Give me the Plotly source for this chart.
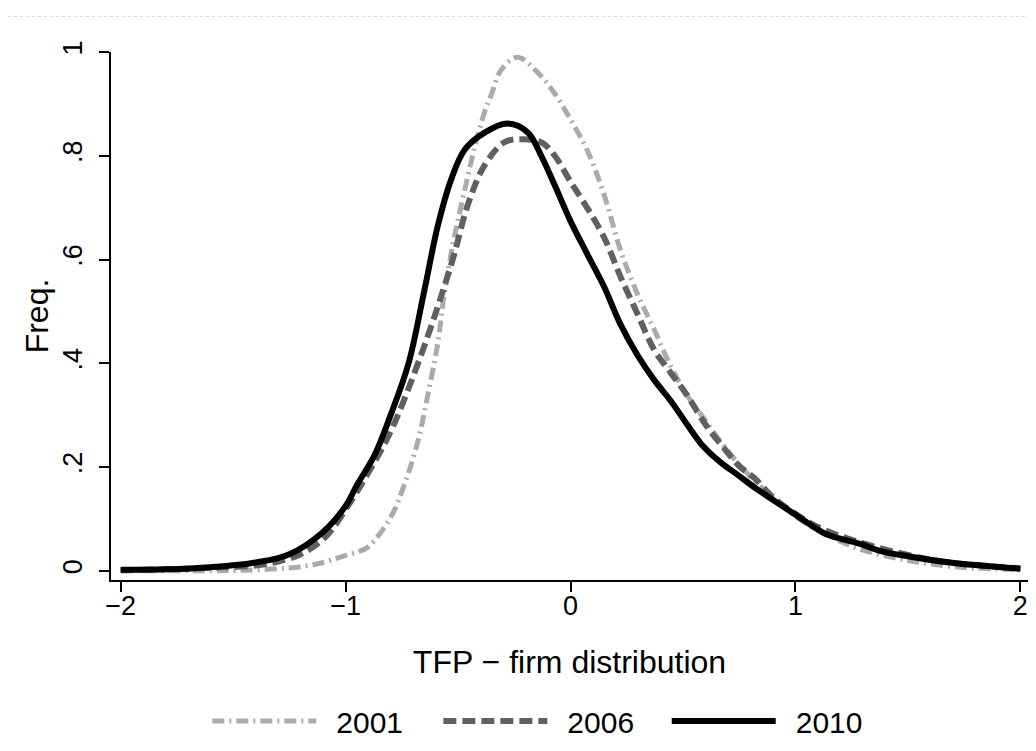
import plotly.graph_objects as go

# ---- data ----
x_2001 = [-2.0, -1.8, -1.6, -1.46, -1.3, -1.2, -1.1, -1.02, -0.95, -0.9, -0.8, -0.738, -0.679,
          -0.635, -0.59, -0.561, -0.517, -0.472, -0.428, -0.383, -0.35, -0.309, -0.235, -0.147,
          -0.072, 0.0, 0.075, 0.15, 0.223, 0.297, 0.372, 0.445, 0.519, 0.594, 0.667, 0.75, 0.85,
          1.0, 1.15, 1.3, 1.5, 1.7, 1.8, 2.0]
y_2001 = [0.0, 0.0, 0.0, 0.001, 0.004, 0.008, 0.016, 0.027, 0.036, 0.046, 0.103, 0.167, 0.249,
          0.338, 0.439, 0.535, 0.642, 0.731, 0.813, 0.883, 0.92, 0.965, 0.990, 0.961,
          0.921, 0.870, 0.810, 0.724, 0.617, 0.534, 0.465, 0.395, 0.338, 0.293, 0.249, 0.205, 0.160,
          0.105, 0.067, 0.040, 0.020, 0.008, 0.005, 0.002]

x_2006 = [-2.0, -1.8, -1.6, -1.4, -1.3, -1.2, -1.09, -0.975, -0.887, -0.8, -0.71, -0.635, -0.576,
          -0.517, -0.457, -0.383, -0.294, -0.22, -0.13, -0.07, 0.0, 0.075, 0.15, 0.223, 0.297,
          0.372, 0.445, 0.519, 0.6, 0.67, 0.755, 0.815, 0.905, 1.054, 1.128, 1.247, 1.426, 1.65,
          1.8, 2.0]
y_2006 = [0.001, 0.003, 0.006, 0.010, 0.018, 0.032, 0.065, 0.135, 0.198, 0.268, 0.363, 0.452, 0.528,
          0.610, 0.705, 0.781, 0.826, 0.832, 0.826, 0.800, 0.750, 0.699, 0.642, 0.566, 0.496,
          0.426, 0.382, 0.338, 0.282, 0.243, 0.200, 0.180, 0.140, 0.095, 0.079, 0.060, 0.038, 0.018,
          0.011, 0.005]

x_2010 = [-2.0, -1.8, -1.6, -1.4, -1.25, -1.1, -1.0, -0.95, -0.87, -0.8, -0.72, -0.65, -0.59,
          -0.53, -0.47, -0.38, -0.28, -0.19, -0.13, -0.07, 0.0, 0.075, 0.15, 0.22, 0.30, 0.37,
          0.45, 0.52, 0.59, 0.67, 0.74, 0.83, 0.98, 1.13, 1.2, 1.28, 1.38, 1.5, 1.65, 1.8, 2.0]
y_2010 = [0.002, 0.003, 0.007, 0.016, 0.032, 0.075, 0.125, 0.165, 0.224, 0.300, 0.400, 0.540, 0.665,
          0.755, 0.812, 0.845, 0.862, 0.845, 0.800, 0.743, 0.674, 0.610, 0.547, 0.477, 0.414, 0.369,
          0.325, 0.281, 0.240, 0.208, 0.186, 0.157, 0.114, 0.072, 0.062, 0.053, 0.038, 0.028, 0.018,
          0.011, 0.004]

series_names = ["2001", "2006", "2010"]
x_ticks = [-2, -1, 0, 1, 2]
x_tick_labels = ["\u22122", "\u22121", "0", "1", "2"]
y_ticks = [0, 0.2, 0.4, 0.6, 0.8, 1.0]
y_tick_labels = ["0", ".2", ".4", ".6", ".8", "1"]

FONT = "Liberation Sans, Arial, Helvetica, sans-serif"
LEG_FONT = dict(size=30, family=FONT, color="black")
GAP = "\u2002"  # small visual gap between legend line and label

fig = go.Figure()
fig.add_trace(go.Scatter(x=x_2001, y=y_2001, name=GAP + series_names[0], mode="lines",
                         legend="legend",
                         line=dict(color="#ababab", width=5, dash="12px,5px,2px,5px", shape="spline",
                                   smoothing=1.0)))
fig.add_trace(go.Scatter(x=x_2006, y=y_2006, name=GAP + series_names[1], mode="lines",
                         legend="legend2",
                         line=dict(color="#606060", width=6, dash="13px,6px", shape="spline",
                                   smoothing=1.0)))
fig.add_trace(go.Scatter(x=x_2010, y=y_2010, name=GAP + series_names[2], mode="lines",
                         legend="legend3",
                         line=dict(color="#000000", width=6, shape="spline", smoothing=1.0)))

leg_common = dict(orientation="h", y=-0.267, yanchor="middle", xanchor="left",
                  font=LEG_FONT, itemwidth=104, bgcolor="rgba(0,0,0,0)")

fig.update_layout(
    width=1036, height=751, autosize=False,
    margin=dict(l=103, r=16, t=44, b=171, pad=0),
    paper_bgcolor="white", plot_bgcolor="white",
    font=dict(family=FONT, color="black"),
    showlegend=True,
    legend=dict(x=0.105, **leg_common),
    legend2=dict(x=0.357, **leg_common),
    legend3=dict(x=0.606, **leg_common),
    xaxis=dict(range=[-2.043, 2.034], tickvals=x_ticks, ticktext=x_tick_labels,
               showline=True, linecolor="black", linewidth=1.5, ticks="outside",
               ticklen=10, tickwidth=1.5, tickcolor="black", showgrid=False, zeroline=False,
               tickfont=dict(size=27, family=FONT), ticklabelstandoff=-9,
               title=dict(text="TFP \u2212 firm distribution", font=dict(size=32, family=FONT),
                          standoff=30)),
    yaxis=dict(range=[-0.0177, 1.0], tickvals=y_ticks, ticktext=y_tick_labels, tickangle=-90,
               showline=True, linecolor="black", linewidth=1.5, ticks="outside",
               ticklen=10, tickwidth=1.5, tickcolor="black", showgrid=False, zeroline=False,
               tickfont=dict(size=27, family=FONT), ticklabelstandoff=6,
               title=dict(text="Freq.", font=dict(size=32, family=FONT), standoff=0)),
    shapes=[dict(type="line", xref="paper", yref="paper",
                 x0=-103 / 917, x1=1033 / 917 - 103 / 917, y0=(580 - 8) / 536, y1=(580 - 8) / 536,
                 line=dict(color="#e2d8d8", width=1, dash="dot"))],
)

fig.write_html("out.html")
